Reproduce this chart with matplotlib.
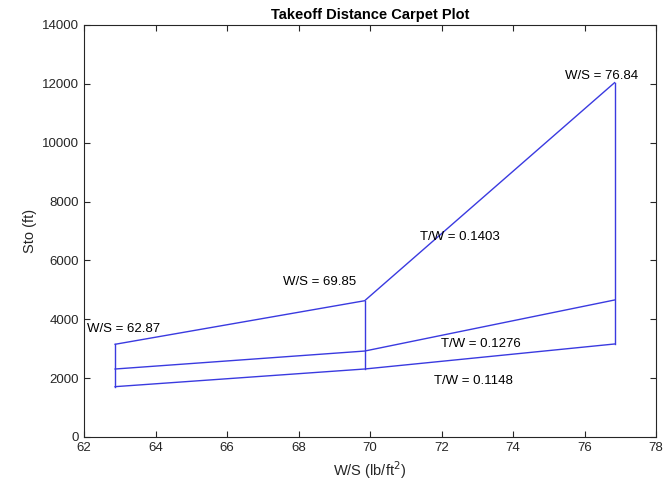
import numpy as np
import matplotlib.pyplot as plt

plt.rcParams['font.family'] = ['Liberation Sans', 'DejaVu Sans']

# wing loading values (lb/ft^2)
ws = [62.87, 69.85, 76.84]
# takeoff distance (ft), one row per thrust-to-weight curve
sto_high = [3150, 4630, 12040]
sto_mid = [2310, 2920, 4655]
sto_low = [1710, 2310, 3160]
tw_labels = ['T/W = 0.1403', 'T/W = 0.1276', 'T/W = 0.1148']

sto = np.array([sto_high, sto_mid, sto_low])
line_color = '#3a3ae0'

fig = plt.figure(figsize=(6.64, 4.87), dpi=100)
ax = fig.add_axes([0.1265, 0.1027, 0.8615, 0.846])

# constant T/W curves
for row in sto:
    ax.plot(ws, row, color=line_color, lw=1.0)
# constant W/S lines
for j, w in enumerate(ws):
    ax.plot([w, w], [sto[:, j].min(), sto[:, j].max()], color=line_color, lw=1.0)

# curve labels
fs = 9.5
ax.text(62.08, 3670, f'W/S = {ws[0]:.2f}', fontsize=fs, va='center', ha='left')
ax.text(69.6, 5270, f'W/S = {ws[1]:.2f}', fontsize=fs, va='center', ha='right')
ax.text(77.5, 12270, f'W/S = {ws[2]:.2f}', fontsize=fs, va='center', ha='right')
ax.text(72.5, 6800, tw_labels[0], fontsize=fs, va='center', ha='center')
ax.text(73.1, 3160, tw_labels[1], fontsize=fs, va='center', ha='center')
ax.text(72.9, 1900, tw_labels[2], fontsize=fs, va='center', ha='center')

ax.set_xlim(62, 78)
ax.set_ylim(0, 14000)
ax.set_xticks(np.arange(62, 79, 2))
ax.set_yticks(np.arange(0, 14001, 2000))
ax.tick_params(direction='in', top=True, right=True, labelsize=9.5,
               colors='#262626', length=4)
for s in ax.spines.values():
    s.set_color('#262626')
    s.set_linewidth(0.8)

ax.set_xlabel('W/S (lb/ft$^2$)', fontsize=10.5, color='#262626')
ax.set_ylabel('Sto (ft)', fontsize=10.5, color='#262626')
ax.set_title('Takeoff Distance Carpet Plot', fontsize=10.5, fontweight='bold', pad=4)

fig.savefig('out.png', dpi=100)
